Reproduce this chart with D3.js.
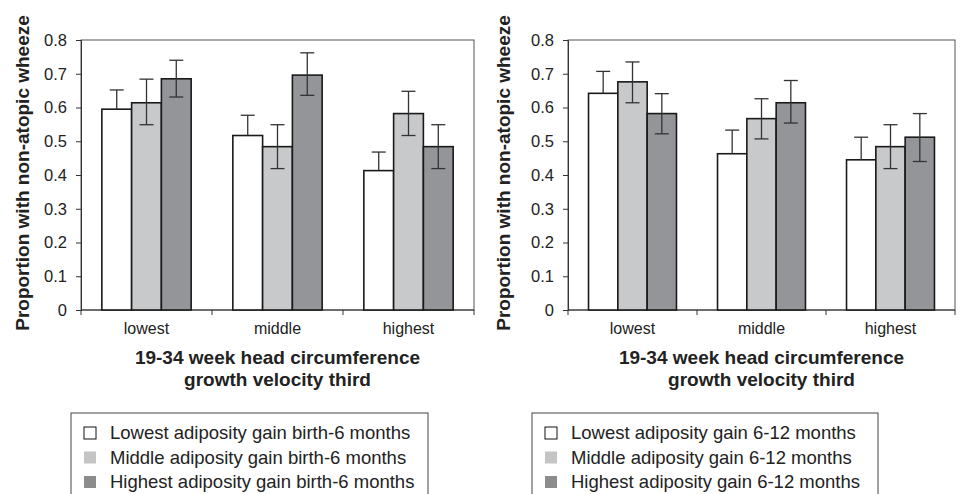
<!DOCTYPE html>
<meta charset="utf-8">
<title>Non-atopic wheeze by head growth third</title>
<script src="https://cdn.jsdelivr.net/npm/d3@7"></script>
<style>
  body { margin: 0; background: #fff; }
  text { font-family: Arial, "Liberation Sans", sans-serif; fill: #222; }
</style>
<body>
<script>

var thirds = ["lowest", "middle", "highest"]
   ,series = ["low", "mid", "high"]
   ,yTicks = [0, 0.1, 0.2, 0.3, 0.4, 0.5, 0.6, 0.7, 0.8];

// panel A: adiposity gain birth-6 months (rows = series, cols = thirds)
var valuesA = [[0.595, 0.517, 0.413],
               [0.614, 0.484, 0.582],
               [0.685, 0.696, 0.484]];
var upperA  = [[0.652, 0.577, 0.468],
               [0.684, 0.549, 0.648],
               [0.740, 0.762, 0.549]];
var lowerA  = [[null, null, null],
               [0.549, 0.419, 0.517],
               [0.631, 0.636, 0.419]];
var legendA = ["Lowest adiposity gain birth-6 months",
               "Middle adiposity gain birth-6 months",
               "Highest adiposity gain birth-6 months"];

// panel B: adiposity gain 6-12 months
var valuesB = [[0.642, 0.463, 0.445],
               [0.676, 0.567, 0.484],
               [0.582, 0.614, 0.512]];
var upperB  = [[0.707, 0.533, 0.512],
               [0.735, 0.626, 0.549],
               [0.641, 0.680, 0.582]];
var lowerB  = [[null, null, null],
               [0.614, 0.507, 0.419],
               [0.522, 0.554, 0.440]];
var legendB = ["Lowest adiposity gain 6-12 months",
               "Middle adiposity gain 6-12 months",
               "Highest adiposity gain 6-12 months"];

var yTitle = "Proportion with non-atopic wheeze"
   ,xTitle = ["19-34 week head circumference", "growth velocity third"];

var barFill = ["#ffffff", "#c8c9cb", "#939598"]
   ,swatchFill = ["#ffffff", "#c4c4c4", "#8c8c8c"];

var svg = d3.select("body").append("svg")
            .attr("width", 960)
            .attr("height", 494);

var drawPanel = function(opt) {
  var x0 = d3.scaleBand().domain(thirds).range([opt.left, opt.right]);
  var x1 = d3.scaleBand().domain(series).range([0, x0.bandwidth()]).paddingOuter(0.7);
  var y = d3.scaleLinear().domain([0, 0.8]).range([310, 40]);

  var g = svg.append("g");

  // frame (top/right)
  g.append("rect")
    .attr("x", opt.left).attr("y", y(0.8))
    .attr("width", opt.right - opt.left).attr("height", y(0) - y(0.8))
    .attr("fill", "none").attr("stroke", "#555").attr("stroke-width", 1);

  // y axis
  var ya = g.append("g")
    .attr("transform", "translate(" + opt.left + ",0)")
    .call(d3.axisLeft(y).tickValues(yTicks).tickSize(5).tickPadding(9)
      .tickFormat(function (d) { return d === 0 ? "0" : d3.format(".1f")(d) }));
  ya.select(".domain").attr("stroke", "#333");
  ya.selectAll(".tick line").attr("stroke", "#333");
  ya.selectAll("text").style("font-size", "16.5px").attr("fill", "#222");

  // x axis: ticks at band edges
  g.append("line")
    .attr("x1", opt.left).attr("x2", opt.right)
    .attr("y1", y(0)).attr("y2", y(0))
    .attr("stroke", "#333");
  var edges = thirds.map(function (d) { return x0(d) }).concat([opt.right]);
  g.selectAll(".xtick").data(edges).enter()
    .append("line")
    .attr("x1", function (d) { return d }).attr("x2", function (d) { return d })
    .attr("y1", y(0)).attr("y2", y(0) + 5)
    .attr("stroke", "#333");
  g.selectAll(".xlab").data(thirds).enter()
    .append("text")
    .attr("x", function (d) { return x0(d) + x0.bandwidth() / 2 })
    .attr("y", 334)
    .attr("text-anchor", "middle")
    .style("font-size", "16px")
    .text(function (d) { return d });

  // bars
  series.forEach(function (s, si) {
    var grp = g.append("g");
    grp.selectAll("rect").data(thirds).enter()
      .append("rect")
      .attr("x", function (d) { return x0(d) + x1(s) })
      .attr("y", function (d, i) { return y(opt.values[si][i]) })
      .attr("width", x1.bandwidth())
      .attr("height", function (d, i) { return y(0) - y(opt.values[si][i]) })
      .attr("fill", barFill[si])
      .attr("stroke", "#1a1a1a")
      .attr("stroke-width", 1.6);
  });

  // error bars
  series.forEach(function (s, si) {
    thirds.forEach(function (t, ti) {
      var cx = x0(t) + x1(s) + x1.bandwidth() / 2
         ,hi = opt.upper[si][ti]
         ,lo = opt.lower[si][ti] == null ? opt.values[si][ti] : opt.lower[si][ti];
      g.append("line")
        .attr("x1", cx).attr("x2", cx)
        .attr("y1", y(hi)).attr("y2", y(lo))
        .attr("stroke", "#333").attr("stroke-width", 1.3);
      g.append("line")
        .attr("x1", cx - 7).attr("x2", cx + 7)
        .attr("y1", y(hi)).attr("y2", y(hi))
        .attr("stroke", "#333").attr("stroke-width", 1.3);
      if (opt.lower[si][ti] != null) {
        g.append("line")
          .attr("x1", cx - 7).attr("x2", cx + 7)
          .attr("y1", y(lo)).attr("y2", y(lo))
          .attr("stroke", "#333").attr("stroke-width", 1.3);
      }
    });
  });

  // axis titles
  g.append("text")
    .attr("transform", "translate(" + opt.ytx + ",173) rotate(-90)")
    .attr("text-anchor", "middle")
    .attr("dy", "0.35em")
    .style("font-size", "19px").style("font-weight", "bold")
    .text(yTitle);
  var mid = (opt.left + opt.right) / 2;
  xTitle.forEach(function (line, i) {
    g.append("text")
      .attr("x", mid).attr("y", 364 + i * 22)
      .attr("text-anchor", "middle")
      .style("font-size", "19px").style("font-weight", "bold")
      .text(line);
  });

  // legend
  g.append("rect")
    .attr("x", opt.legX).attr("y", 413)
    .attr("width", opt.legW).attr("height", 120)
    .attr("fill", "#fff").attr("stroke", "#444");
  opt.legend.forEach(function (lab, i) {
    var cy = 433 + i * 24.5;
    g.append("rect")
      .attr("x", opt.legX + 13).attr("y", cy - 6)
      .attr("width", 12).attr("height", 12)
      .attr("fill", swatchFill[i])
      .attr("stroke", i === 0 ? "#111" : "none");
    g.append("text")
      .attr("x", opt.legX + 39).attr("y", cy)
      .attr("dy", "0.35em")
      .style("font-size", "18.5px")
      .text(lab);
  });
}

drawPanel({left: 81, right: 474, ytx: 22, values: valuesA, upper: upperA, lower: lowerA,
           legend: legendA, legX: 71, legW: 357});
drawPanel({left: 568, right: 955, ytx: 503, values: valuesB, upper: upperB, lower: lowerB,
           legend: legendB, legX: 532, legW: 346});

</script>
